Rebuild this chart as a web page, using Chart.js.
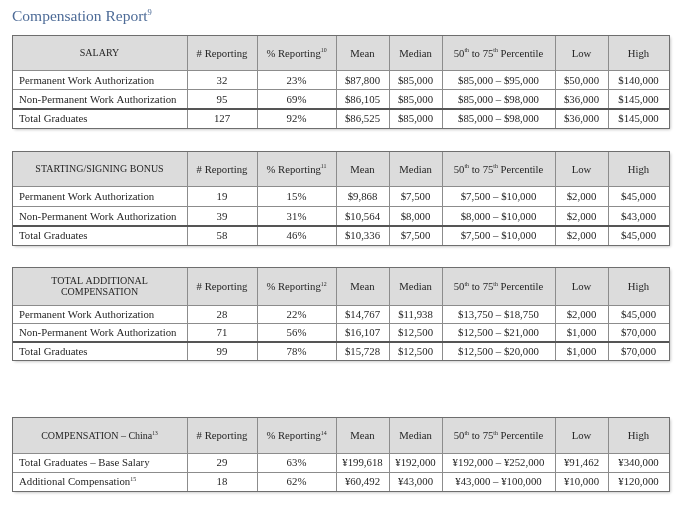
<!DOCTYPE html>
<html><head><meta charset="utf-8">
<script src="https://cdn.jsdelivr.net/npm/chart.js@4/dist/chart.umd.min.js"></script>
<style>html,body{margin:0;padding:0;background:#fff}#wrap{width:683px;height:507px}</style>
</head><body><div id="wrap"><canvas id="c"></canvas></div>
<script>
// ---------- DATA ----------
const reportTitle = 'Compensation Report';
const reportTitleNote = '9';
const columnHeaders = ['# Reporting', '% Reporting', 'Mean', 'Median', '50th to 75th Percentile', 'Low', 'High'];
const sectionTitles = [['SALARY'], ['STARTING/SIGNING BONUS'], ['TOTAL ADDITIONAL', 'COMPENSATION'], ['COMPENSATION – China']];
const sectionTitleNotes = ['', '', '', '13'];
const pctReportingNotes = ['10', '11', '12', '14'];
const rowLabels = [
  ['Permanent Work Authorization', 'Non-Permanent Work Authorization', 'Total Graduates'],
  ['Permanent Work Authorization', 'Non-Permanent Work Authorization', 'Total Graduates'],
  ['Permanent Work Authorization', 'Non-Permanent Work Authorization', 'Total Graduates'],
  ['Total Graduates – Base Salary', 'Additional Compensation']
];
const rowLabelNotes = [['', '', ''], ['', '', ''], ['', '', ''], ['', '15']];
const currencySymbols = ['$', '$', '$', '¥'];
const numReporting = [[32, 95, 127], [19, 39, 58], [28, 71, 99], [29, 18]];
const pctReporting = [[23, 69, 92], [15, 31, 46], [22, 56, 78], [63, 62]];
const meanValues = [[87800, 86105, 86525], [9868, 10564, 10336], [14767, 16107, 15728], [199618, 60492]];
const medianValues = [[85000, 85000, 85000], [7500, 8000, 7500], [11938, 12500, 12500], [192000, 43000]];
const pct50Values = [[85000, 85000, 85000], [7500, 8000, 7500], [13750, 12500, 12500], [192000, 43000]];
const pct75Values = [[95000, 98000, 98000], [10000, 10000, 10000], [18750, 21000, 20000], [252000, 100000]];
const lowValues = [[50000, 36000, 36000], [2000, 2000, 2000], [2000, 1000, 1000], [91462, 10000]];
const highValues = [[140000, 145000, 145000], [45000, 43000, 45000], [45000, 70000, 70000], [340000, 120000]];

// ---------- LAYOUT (page units mapped through the chart's scales) ----------
const layout = {
  colEdges: [12, 187, 257, 336, 389, 442, 555, 608, 669],
  sectionTop: [35, 151, 267, 417],
  headerHeight: [35, 35, 38, 36],
  rowHeight: [19.4, 19.8, 18.4, 19],
  totalRowSeparator: [true, true, true, false]
};
const FONT = '"Liberation Serif", "Times New Roman", serif';

function fmt(v) { return v.toLocaleString('en-US'); }

function drawRich(ctx, parts, x, y, align, size) {
  const supSize = Math.max(5, size * 0.55);
  let w = 0;
  parts.forEach(p => {
    ctx.font = (p.sup ? supSize : size) + 'px ' + FONT;
    p.w = ctx.measureText(p.t).width;
    w += p.w;
  });
  let cx = align === 'center' ? x - w / 2 : x;
  ctx.textAlign = 'left';
  ctx.textBaseline = 'alphabetic';
  parts.forEach(p => {
    ctx.font = (p.sup ? supSize : size) + 'px ' + FONT;
    ctx.fillText(p.t, cx, p.sup ? y - size * 0.38 : y);
    cx += p.w;
  });
}

const tablePlugin = {
  id: 'tablePlugin',
  afterDraw(chart) {
    const ctx = chart.ctx;
    const xs = chart.scales.x, ys = chart.scales.y;
    const X = v => xs.getPixelForValue(v);
    const Y = v => ys.getPixelForValue(v);
    ctx.save();
    // title
    ctx.fillStyle = '#4d6b97';
    drawRich(ctx, [{ t: reportTitle }, { t: reportTitleNote, sup: true }], X(12), Y(21), 'left', 15.5);

    const ex = layout.colEdges.map(X);
    const left = ex[0], right = ex[ex.length - 1];
    sectionTitles.forEach((st, s) => {
      const nRows = rowLabels[s].length;
      const top = Y(layout.sectionTop[s]);
      const hb = Y(layout.sectionTop[s] + layout.headerHeight[s]);
      const rowB = [];
      for (let r = 0; r <= nRows; r++) rowB.push(Y(layout.sectionTop[s] + layout.headerHeight[s] + r * layout.rowHeight[s]));
      const bottom = rowB[nRows];
      // shadow + background
      ctx.save();
      ctx.shadowColor = 'rgba(0,0,0,0.28)';
      ctx.shadowBlur = 3;
      ctx.shadowOffsetX = 1.5;
      ctx.shadowOffsetY = 1.5;
      ctx.fillStyle = '#ffffff';
      ctx.fillRect(left, top, right - left, bottom - top);
      ctx.restore();
      ctx.fillStyle = '#dcdcdc';
      ctx.fillRect(left, top, right - left, hb - top);
      // grid
      ctx.strokeStyle = '#8c8c8c';
      ctx.lineWidth = 1;
      ctx.beginPath();
      ex.forEach(x => { ctx.moveTo(Math.round(x) + 0.5, top); ctx.lineTo(Math.round(x) + 0.5, bottom); });
      rowB.forEach((y, i) => {
        if (layout.totalRowSeparator[s] && i === nRows - 1) return;
        ctx.moveTo(left, Math.round(y) + 0.5); ctx.lineTo(right + 1, Math.round(y) + 0.5);
      });
      ctx.moveTo(left, Math.round(top) + 0.5); ctx.lineTo(right + 1, Math.round(top) + 0.5);
      ctx.stroke();
      if (layout.totalRowSeparator[s]) {
        ctx.strokeStyle = '#555';
        ctx.lineWidth = 2;
        ctx.beginPath();
        const y = Math.round(rowB[nRows - 1]);
        ctx.moveTo(left, y); ctx.lineTo(right + 1, y);
        ctx.stroke();
      }
      ctx.strokeStyle = '#6e6e6e';
      ctx.lineWidth = 1;
      ctx.strokeRect(Math.round(left) + 0.5, Math.round(top) + 0.5, Math.round(right - left), Math.round(bottom - top));

      // header text
      ctx.fillStyle = '#262626';
      const hc = (top + hb) / 2;
      const c0 = (ex[0] + ex[1]) / 2;
      st.forEach((line, li) => {
        const yy = hc + 3.6 + (li - (st.length - 1) / 2) * 11;
        const parts = [{ t: line }];
        if (li === st.length - 1 && sectionTitleNotes[s]) parts.push({ t: sectionTitleNotes[s], sup: true });
        drawRich(ctx, parts, c0, yy, 'center', 10);
      });
      columnHeaders.forEach((h, c) => {
        const cx = (ex[c + 1] + ex[c + 2]) / 2;
        let parts;
        if (c === 1) parts = [{ t: h }, { t: pctReportingNotes[s], sup: true }];
        else if (c === 4) parts = [{ t: '50' }, { t: 'th', sup: true }, { t: ' to 75' }, { t: 'th', sup: true }, { t: ' Percentile' }];
        else parts = [{ t: h }];
        drawRich(ctx, parts, cx, hc + 4, 'center', 10.7);
      });
      // body rows
      const cur = currencySymbols[s];
      for (let r = 0; r < nRows; r++) {
        const yy = (rowB[r] + rowB[r + 1]) / 2 + 3.8;
        const lab = [{ t: rowLabels[s][r] }];
        if (rowLabelNotes[s][r]) lab.push({ t: rowLabelNotes[s][r], sup: true });
        drawRich(ctx, lab, ex[0] + 7, yy, 'left', 10.8);
        const cells = [
          String(numReporting[s][r]),
          pctReporting[s][r] + '%',
          cur + fmt(meanValues[s][r]),
          cur + fmt(medianValues[s][r]),
          cur + fmt(pct50Values[s][r]) + ' – ' + cur + fmt(pct75Values[s][r]),
          cur + fmt(lowValues[s][r]),
          cur + fmt(highValues[s][r])
        ];
        cells.forEach((t, c) => {
          drawRich(ctx, [{ t }], (ex[c + 1] + ex[c + 2]) / 2, yy, 'center', 10.8);
        });
      }
    });
    ctx.restore();
  }
};

new Chart(document.getElementById('c'), {
  type: 'scatter',
  data: { datasets: [] },
  options: {
    responsive: true,
    maintainAspectRatio: false,
    animation: false,
    layout: { padding: 0 },
    plugins: { legend: { display: false }, tooltip: { enabled: false } },
    scales: {
      x: { type: 'linear', min: 0, max: 683, display: false },
      y: { type: 'linear', min: 0, max: 507, reverse: true, display: false }
    }
  },
  plugins: [tablePlugin]
});
</script>
</body></html>
